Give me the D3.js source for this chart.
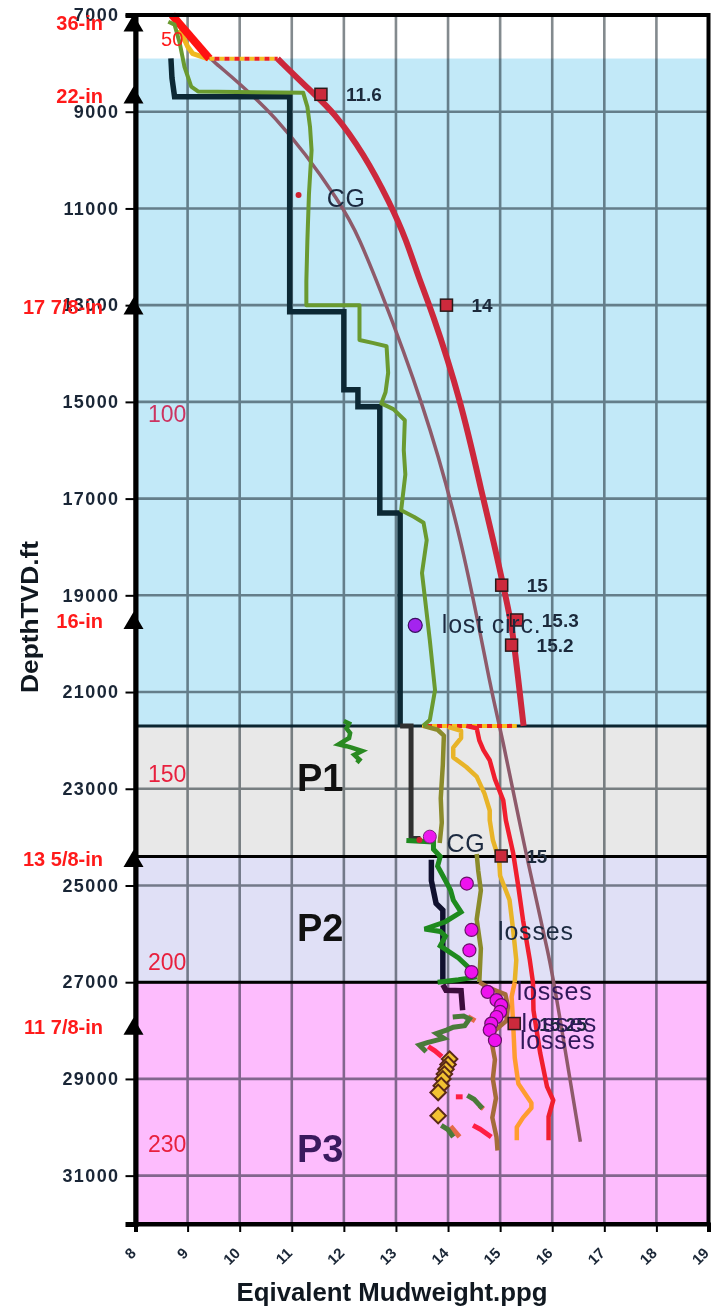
<!DOCTYPE html>
<html>
<head>
<meta charset="utf-8">
<script src="https://cdn.jsdelivr.net/npm/d3@7"></script>
<style>
  body { margin: 0; background: #fff; }
  svg { display: block; font-family: "Liberation Sans", Arial, sans-serif; }
</style>
</head>
<body>
<div id="chart"></div>
<script>
// ---- data: every point is [mud weight ppg, depth ft TVD] ----
const xTickVals = d3.range(8, 20);
const yTickVals = d3.range(7000, 32000, 2000);

const zoneTops = [7900, 21700, 24400, 27000];
const zoneBottoms = [21700, 24400, 27000, 32000];
const zoneNames = ["", "P1", "P2", "P3"];
const zoneNamePos = [null, [11.1, 23050], [11.1, 26150], [11.1, 30720]];

const casingDepths = [7175, 8665, 13030, 19530, 24455, 27920];
const casingNames = ["36-in", "22-in", "17 7/8-in", "16-in", "13 5/8-in", "11 7/8-in"];

const stageLabels = ["50", "100", "150", "200", "230"];
const stagePos = [[8.49, 7650], [8.24, 15410], [8.24, 22860], [8.24, 26750], [8.24, 30510]];

// pore pressure (stepped)
const porePressure = [[8.68, 7895], [8.7, 8300], [8.75, 8690], [10.96, 8690], [10.96, 13136],
  [12.0, 13136], [12.0, 14750], [12.27, 14750], [12.27, 15100], [12.69, 15100], [12.69, 17300],
  [13.08, 17300], [13.08, 21700]];
const porePressureP1 = [[13.08, 21700], [13.29, 21700], [13.29, 24030], [13.47, 24030]];
const porePressureP2 = [[13.68, 24470], [13.68, 24900], [13.77, 25370], [13.9, 25510], [13.9, 27020]];
const porePressureP3 = [[13.9, 27050], [13.96, 27165], [14.25, 27175], [14.28, 27580]];

// mud weight
const mudWeight = [[8.63, 7140], [8.75, 7200], [8.85, 7585], [8.94, 8070], [9.07, 8480], [9.2, 8580],
  [11.22, 8610], [11.3, 8900], [11.35, 9310], [11.38, 9800], [11.33, 10700], [11.3, 11650],
  [11.28, 12500], [11.28, 13000], [12.3, 13000], [12.3, 13720], [12.55, 13780], [12.82, 13850],
  [12.85, 14400], [12.8, 14800], [12.72, 15030], [12.95, 15150], [13.17, 15380], [13.15, 16000],
  [13.18, 16500], [13.1, 17240], [13.35, 17380], [13.53, 17500], [13.59, 17860], [13.5, 18540],
  [13.55, 19000], [13.65, 19930], [13.75, 20960], [13.65, 21580], [13.52, 21700]];
const mudWeightP1 = [[13.52, 21700], [13.8, 21780], [13.92, 21900], [13.9, 22500], [13.86, 23200],
  [13.88, 23700], [13.84, 24120]];
const mudWeightP2 = [[14.55, 24350], [14.58, 24700], [14.63, 25100], [14.55, 25700], [14.63, 26300],
  [14.6, 27000]];
const mudWeightP3 = [[14.6, 27000], [14.75, 27100], [15.1, 27250], [15.15, 27500], [15.12, 27800],
  [14.9, 28000], [14.83, 28200], [14.9, 28600], [14.86, 29000], [14.92, 29400], [14.85, 29800],
  [14.93, 30200], [14.95, 30480]];

// ECD style traces
const ecdP1 = [[12.0, 21600], [12.1, 21650], [12.05, 21750], [12.12, 21850], [12.1, 21950],
  [11.9, 22080], [12.05, 22120], [12.15, 22150], [12.35, 22220], [12.2, 22300], [12.3, 22400],
  [12.25, 22460]];
const ecdP2 = [[13.2, 24070], [13.72, 24100], [13.72, 24250], [13.85, 24400], [13.8, 24600],
  [13.9, 24800], [14.05, 25100], [14.1, 25300], [14.25, 25550], [14.1, 25650], [13.95, 25750],
  [13.55, 25900], [13.85, 25950], [13.95, 26050], [13.85, 26250], [14.2, 26500], [14.45, 26750],
  [14.5, 26900], [14.2, 26950], [13.8, 27000]];
const ecdP3 = [
  [[14.09, 27720], [14.3, 27700], [14.41, 27760], [14.32, 27900], [14.1, 27930], [13.97, 27990],
    [13.78, 28060], [13.92, 28160], [13.6, 28250], [13.45, 28300], [13.58, 28440]],
  [[14.37, 29340], [14.5, 29420], [14.66, 29610]],
  [[13.87, 29960], [14.0, 30050], [14.1, 30200]]];
const ecdP3Orange = [
  [[14.38, 27710], [14.52, 27800]],
  [[14.6, 29550], [14.68, 29620]],
  [[14.05, 29980], [14.22, 30200]]];
const ecdP3Red = [
  [[13.62, 28330], [13.75, 28420], [13.88, 28540]],
  [[14.15, 29370], [14.28, 29370]],
  [[14.48, 29960], [14.62, 30040], [14.83, 30200]]];

// gold / orange / red traces
const goldTop = [[8.85, 7300], [9.0, 7650], [9.1, 7800], [9.4, 7910]];
const goldLine = [[14.0, 21720], [14.25, 21800], [14.25, 21950], [14.1, 22150], [14.1, 22350],
  [14.35, 22550], [14.55, 22750], [14.7, 23100], [14.8, 23450], [14.8, 23650], [14.86, 24060],
  [14.98, 24470], [15.0, 24800], [15.18, 25300], [15.25, 25920], [15.31, 26545], [15.28, 27000]];
const orangeP3 = [[15.28, 27000], [15.22, 27300], [15.25, 27860], [15.28, 28560], [15.35, 29100],
  [15.6, 29500], [15.6, 29600], [15.44, 29800], [15.32, 30000], [15.32, 30270]];
const redLine = [[14.35, 21700], [14.55, 21750], [14.6, 22000], [14.68, 22200], [14.8, 22410],
  [14.9, 22800], [15.06, 23240], [15.11, 23650], [15.25, 24330], [15.35, 25030], [15.44, 25720],
  [15.57, 26545], [15.63, 27000], [15.64, 27580], [15.77, 28470], [15.9, 29160], [16.02, 29440],
  [15.93, 29780], [15.93, 30270]];
const redTop = [[8.7, 7000], [9.42, 7900]];

// gradients
const fracGradient = [[10.73, 7905], [11.41, 8620], [11.8, 9000], [12.38, 9860], [12.89, 10900],
  [13.2, 11650], [13.45, 12480], [13.65, 13000], [14.26, 15000], [14.67, 17000], [14.87, 17860],
  [15.06, 18800], [15.2, 19500], [15.27, 20000], [15.45, 21700]];
const overburden = [[9.17, 7585], [9.36, 7860], [10.68, 9000], [12.02, 11000], [12.3, 11650],
  [12.63, 12480], [13.52, 15000], [14.28, 17860], [14.86, 21170], [15.0, 21700], [15.5, 24400],
  [15.96, 26545], [16.09, 27370], [16.54, 30300]];

const dottedLines = [[[9.42, 7905], [10.73, 7905]], [[13.5, 21700], [15.32, 21700]]];

// leak-off tests
const lotPpg = [11.56, 13.97, 15.03, 15.32, 15.22, 15.02, 15.27];
const lotDepth = [8640, 13000, 18790, 19510, 20030, 24390, 27855];
const lotText = ["11.6", "14", "15", "15.3", "15.2", "15", "15.25"];

// losses
const lossPpg = [14.36, 14.45, 14.41, 14.45, 14.76, 14.93, 15.02, 15.0, 14.93, 14.83, 14.8, 14.9];
const lossDepth = [24960, 25920, 26340, 26790, 27200, 27370, 27475, 27615, 27720, 27855, 27990, 28200];
const lostCirc = [13.37, 19620];
const cgDots = [[11.13, 10720], [13.45, 24060]];
const cgCircle = [13.65, 23990];

const diamondPpg = [14.03, 14.0, 13.96, 13.93, 13.9, 13.87, 13.81, 13.81];
const diamondDepth = [28590, 28700, 28800, 28900, 29000, 29140, 29280, 29760];

const notes = [
  { p: [11.67, 10965], t: "CG" },
  { p: [13.97, 24305], t: "CG" },
  { p: [13.88, 19780], t: "lost circ." },
  { p: [14.96, 26130], t: "losses" },
  { p: [15.32, 27370], t: "losses" },
  { p: [15.41, 28030], t: "losses" },
  { p: [15.38, 28390], t: "losses" }
];

// ---- chart ----
const width = 713, height = 1309;
const x = d3.scaleLinear().domain([8, 19]).range([135.5, 708.5]);
const y = d3.scaleLinear().domain([7000, 32000]).range([15, 1224]);

const svg = d3.select("#chart").append("svg")
  .attr("width", width)
  .attr("height", height);

const zoneFill = ["#c2e9f8", "#e8e8e8", "#e0e0f6", "#fdbcfd"];

svg.append("rect")
  .attr("x", x(8)).attr("y", y(7000))
  .attr("width", x(19) - x(8)).attr("height", y(32000) - y(7000))
  .attr("fill", "#fff");

svg.selectAll(".zone")
  .data(zoneTops)
  .enter().append("rect")
  .attr("class", "zone")
  .attr("x", x(8))
  .attr("y", (d) => y(d))
  .attr("width", x(19) - x(8))
  .attr("height", (d, i) => y(zoneBottoms[i]) - y(d))
  .attr("fill", (d, i) => zoneFill[i]);

// grid, multiplied on top of the bands
const grid = svg.append("g").style("mix-blend-mode", "multiply");
grid.selectAll(".vg")
  .data(xTickVals.slice(1, -1))
  .enter().append("line")
  .attr("x1", (d) => x(d)).attr("x2", (d) => x(d))
  .attr("y1", y(7000)).attr("y2", y(32000))
  .attr("stroke", "#838a8e").attr("stroke-width", 2.6);
grid.selectAll(".hg")
  .data(yTickVals.slice(1))
  .enter().append("line")
  .attr("x1", x(8)).attr("x2", x(19))
  .attr("y1", (d) => y(d)).attr("y2", (d) => y(d))
  .attr("stroke", "#838a8e").attr("stroke-width", 2.6);

// zone boundaries
svg.selectAll(".zb")
  .data(zoneTops.slice(1))
  .enter().append("line")
  .attr("x1", x(8)).attr("x2", x(19))
  .attr("y1", (d) => y(d)).attr("y2", (d) => y(d))
  .attr("stroke", (d, i) => (i === 0 ? "#0b2530" : "#000"))
  .attr("stroke-width", 3);

// zone names
svg.selectAll(".zname")
  .data(zoneNames.slice(1))
  .enter().append("text")
  .attr("x", (d, i) => x(zoneNamePos[i + 1][0]))
  .attr("y", (d, i) => y(zoneNamePos[i + 1][1]))
  .attr("font-size", 38).attr("font-weight", "bold")
  .attr("fill", (d, i) => (i === 2 ? "#3a1a5e" : "#111"))
  .text((d) => d);

const line = d3.line().x((d) => x(d[0])).y((d) => y(d[1]));
const smooth = d3.line().x((d) => x(d[0])).y((d) => y(d[1])).curve(d3.curveBasis);

function drawLine(data, color, w, gen, extra) {
  const p = svg.append("path")
    .datum(data)
    .attr("d", gen || line)
    .attr("fill", "none")
    .attr("stroke", color)
    .attr("stroke-width", w)
    .attr("stroke-linejoin", "round")
    .attr("stroke-linecap", "butt");
  if (extra) extra(p);
  return p;
}

// gradients and traces
drawLine(goldTop, "#f0b820", 5);
drawLine(overburden, "#8e5a6a", 3.5, smooth);
drawLine(redTop, "#ff1212", 8);
dottedLines.forEach((seg) => {
  drawLine(seg, "#f4c020", 4, null, (p) => p.attr("stroke-dasharray", "5,5"));
  drawLine(seg, "#ee2020", 4, null, (p) => p.attr("stroke-dasharray", "5,5").attr("stroke-dashoffset", 5));
});
drawLine(fracGradient, "#cc283c", 6, smooth);

drawLine(ecdP1, "#2a8a22", 4.5, null, (p) => p.attr("stroke-linejoin", "miter"));
drawLine(goldLine, "#e8b428", 4.5);
drawLine(orangeP3, "#ff9c30", 4.5);
drawLine(redLine, "#f01e2e", 4.5);
drawLine(mudWeightP1, "#8b8b2b", 4.5);
drawLine(mudWeightP2, "#8b8b2b", 4.5);
drawLine(mudWeightP3, "#a46c3a", 4.5);

drawLine(porePressure, "#0c2834", 5.5, null, (p) => p.attr("stroke-linejoin", "miter"));
drawLine(porePressureP1, "#303030", 5, null, (p) => p.attr("stroke-linejoin", "miter"));
drawLine(porePressureP2, "#10102e", 5.5, null, (p) => p.attr("stroke-linejoin", "miter"));
drawLine(porePressureP3, "#3c0c3c", 5.5, null, (p) => p.attr("stroke-linejoin", "miter"));
drawLine(mudWeight, "#6a9a30", 4);

ecdP3Orange.forEach((s) => drawLine(s, "#e46a48", 5));
ecdP3.forEach((s) => drawLine(s, "#4a7a3a", 5, null, (p) => p.attr("stroke-linejoin", "miter")));
ecdP3Red.forEach((s) => drawLine(s, "#ff1e44", 5));
drawLine(ecdP2, "#1e8a1e", 5, null, (p) => p.attr("stroke-linejoin", "miter"));

// stage numbers (on top of the traces)
svg.selectAll(".stage")
  .data(stageLabels)
  .enter().append("text")
  .attr("x", (d, i) => x(stagePos[i][0]))
  .attr("y", (d, i) => y(stagePos[i][1]))
  .attr("font-size", (d, i) => (i === 0 ? 20 : 23))
  .attr("fill", (d, i) => (i === 0 ? "#ff1a1a" : i === 1 ? "#cc3360" : "#e8203e"))
  .text((d) => d);

// markers
svg.selectAll(".cgdot")
  .data(cgDots)
  .enter().append("circle")
  .attr("cx", (d) => x(d[0])).attr("cy", (d) => y(d[1]))
  .attr("r", 3).attr("fill", "#d02030");

svg.append("circle")
  .attr("cx", x(cgCircle[0])).attr("cy", y(cgCircle[1]))
  .attr("r", 6.5).attr("fill", "#ee18ee").attr("stroke", "#802080").attr("stroke-width", 1);

svg.selectAll(".loss")
  .data(lossPpg)
  .enter().append("circle")
  .attr("cx", (d) => x(d)).attr("cy", (d, i) => y(lossDepth[i]))
  .attr("r", 6.5).attr("fill", "#ee12ee").attr("stroke", "#6a106a").attr("stroke-width", 1.2);

svg.append("circle")
  .attr("cx", x(lostCirc[0])).attr("cy", y(lostCirc[1]))
  .attr("r", 7).attr("fill", "#a424ee").attr("stroke", "#3a1060").attr("stroke-width", 1.2);

svg.selectAll(".dia")
  .data(diamondPpg)
  .enter().append("path")
  .attr("transform", (d, i) => `translate(${x(d)},${y(diamondDepth[i])}) rotate(45)`)
  .attr("d", "M-5.5,-5.5H5.5V5.5H-5.5Z")
  .attr("fill", "#f2c232").attr("stroke", "#5a2a18").attr("stroke-width", 2);

svg.selectAll(".lot")
  .data(lotPpg)
  .enter().append("rect")
  .attr("x", (d) => x(d) - 6).attr("y", (d, i) => y(lotDepth[i]) - 6)
  .attr("width", 12).attr("height", 12)
  .attr("fill", "#cc2a3c").attr("stroke", "#2a1a1a").attr("stroke-width", 1.5);

svg.selectAll(".lotlab")
  .data(lotText)
  .enter().append("text")
  .attr("x", (d, i) => x(lotPpg[i]) + 25)
  .attr("y", (d, i) => y(lotDepth[i]) + 7)
  .attr("font-size", 19).attr("font-weight", "bold")
  .attr("fill", "#1c2a3c")
  .text((d) => d);

svg.selectAll(".note")
  .data(notes)
  .enter().append("text")
  .attr("x", (d) => x(d.p[0]))
  .attr("y", (d) => y(d.p[1]))
  .attr("font-size", 25)
  .attr("letter-spacing", 0.8)
  .attr("fill", (d, i) => (i > 3 ? "#30185a" : "#1c2a40"))
  .text((d) => d.t);

// frame
svg.append("rect")
  .attr("x", x(8)).attr("y", y(7000))
  .attr("width", x(19) - x(8)).attr("height", y(32000) - y(7000))
  .attr("fill", "none").attr("stroke", "#000").attr("stroke-width", 4);

// axes
const yAxis = svg.append("g")
  .attr("transform", `translate(${x(8)},0)`)
  .call(d3.axisLeft(y).tickValues(yTickVals).tickSize(10).tickPadding(6).tickFormat((d) => d));
yAxis.select(".domain").attr("stroke-width", 5);
yAxis.selectAll(".tick line").attr("stroke-width", 2);
yAxis.selectAll(".tick text")
  .attr("font-family", "Liberation Sans, Arial, sans-serif")
  .attr("font-size", 18).attr("font-weight", "bold")
  .attr("letter-spacing", 1.4)
  .attr("fill", "#1a2636");

const xAxis = svg.append("g")
  .attr("transform", `translate(0,${y(32000)})`)
  .call(d3.axisBottom(x).tickValues(xTickVals).tickSize(8).tickFormat((d) => d));
xAxis.select(".domain").attr("stroke-width", 4);
xAxis.selectAll(".tick line").attr("stroke-width", 2);
xAxis.selectAll(".tick text")
  .attr("font-family", "Liberation Sans, Arial, sans-serif")
  .attr("font-size", 15).attr("font-weight", "bold")
  .attr("fill", "#1a2636")
  .attr("text-anchor", "end")
  .attr("x", 0).attr("y", 0).attr("dy", 0)
  .attr("transform", "translate(1,30) rotate(-45)");

// casing shoes
svg.selectAll(".shoe")
  .data(casingDepths)
  .enter().append("path")
  .attr("transform", (d) => `translate(${x(8) - 2},${y(d)})`)
  .attr("d", "M0,-9L10,8H-10Z")
  .attr("fill", "#000");

svg.selectAll(".shoelab")
  .data(casingNames)
  .enter().append("text")
  .attr("x", 103)
  .attr("y", (d, i) => y(casingDepths[i]) + 7)
  .attr("text-anchor", "end")
  .attr("font-size", 20).attr("font-weight", "bold")
  .attr("fill", "#ff1a1a")
  .text((d) => d);

// axis titles
svg.append("text")
  .attr("x", 392).attr("y", 1301)
  .attr("text-anchor", "middle")
  .attr("font-family", "Liberation Sans Narrow, Arial Narrow, Liberation Sans, sans-serif")
  .attr("font-size", 25).attr("font-weight", "bold")
  .attr("fill", "#101820")
  .attr("textLength", 311).attr("lengthAdjust", "spacingAndGlyphs")
  .text("Eqivalent  Mudweight.ppg");

svg.append("text")
  .attr("transform", "translate(38,617) rotate(-90)")
  .attr("text-anchor", "middle")
  .attr("font-family", "Liberation Sans Narrow, Arial Narrow, Liberation Sans, sans-serif")
  .attr("font-size", 23).attr("font-weight", "bold")
  .attr("fill", "#101820")
  .attr("textLength", 152).attr("lengthAdjust", "spacingAndGlyphs")
  .text("DepthTVD.ft");
</script>
</body>
</html>
